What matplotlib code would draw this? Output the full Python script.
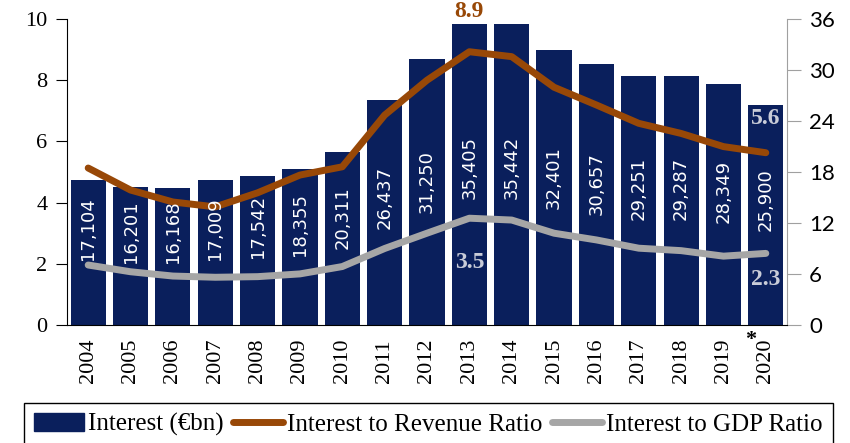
import numpy as np
import matplotlib
matplotlib.use("Agg")
import matplotlib.pyplot as plt
from matplotlib.patches import Patch
from matplotlib.lines import Line2D

# data
years = ['2004', '2005', '2006', '2007', '2008', '2009', '2010', '2011', '2012',
         '2013', '2014', '2015', '2016', '2017', '2018', '2019', '2020']
interest = [17104, 16201, 16168, 17009, 17542, 18355, 20311, 26437, 31250,
            35405, 35442, 32401, 30657, 29251, 29287, 28349, 25900]
revenue_ratio = [5.13, 4.41, 4.02, 3.86, 4.32, 4.9, 5.17, 6.86, 8.0,
                 8.93, 8.77, 7.77, 7.19, 6.59, 6.26, 5.83, 5.63]
gdp_ratio = [1.96, 1.74, 1.6, 1.56, 1.58, 1.67, 1.91, 2.5, 3.0,
             3.49, 3.43, 3.0, 2.78, 2.51, 2.43, 2.25, 2.34]

navy = '#0a1f5c'
brown = '#984807'
grey = '#a6a6a6'
label_col = '#c9ccd8'
serif = 'Liberation Serif'

x = np.arange(len(years))
bars_bn = np.array(interest) / 1000

fig = plt.figure(figsize=(8.5, 4.43), dpi=100)
ax = fig.add_axes([67 / 850, 118 / 443, 720 / 850, 306 / 443])
ax2 = ax.twinx()
ax.set_zorder(2)
ax.patch.set_visible(False)
ax2.set_zorder(1)

# bars on the right axis
ax2.bar(x, bars_bn, width=0.83, color=navy)
ax2.set_ylim(0, 36)
ax2.set_yticks(np.arange(0, 37, 6))
ax2.tick_params(axis='y', colors='#a0a0a0', labelcolor='black', length=10, pad=6,
                labelsize=16)
for lab in ax2.get_yticklabels():
    lab.set_fontfamily('Lato')
for s in ['top', 'left', 'bottom']:
    ax2.spines[s].set_visible(False)
ax2.spines['right'].set_color('#a0a0a0')

# bar value labels
for xi, h, v in zip(x, bars_bn, interest):
    ax.text(xi, 0.39 * h + 4.7, f'{v:,}', transform=ax2.transData, rotation=90,
            ha='center', va='center', color='white', fontsize=13,
            fontfamily='DejaVu Sans', zorder=5)

# ratio lines on the left axis
ax.plot(x, revenue_ratio, color=brown, lw=5, solid_capstyle='round', zorder=3)
ax.plot(x, gdp_ratio, color=grey, lw=5, solid_capstyle='round', zorder=3)
ax.set_ylim(0, 10)
ax.set_xlim(-0.5, len(years) - 0.5)
ax.set_yticks(np.arange(0, 11, 2))
ax.tick_params(axis='y', length=8, pad=6, labelsize=16)
for lab in ax.get_yticklabels():
    lab.set_fontfamily(serif)
ax.spines['top'].set_visible(False)
ax.spines['right'].set_visible(False)

# x axis: ticks between categories, labels at centres
ax.set_xticks(np.arange(-0.5, len(years), 1))
ax.set_xticklabels([])
ax.set_xticks(x, minor=True)
ax.set_xticklabels(years, minor=True, rotation=90, fontsize=16, fontfamily=serif)
ax.tick_params(axis='x', which='major', length=8)
ax.tick_params(axis='x', which='minor', length=0, pad=10)
ax2.set_xticks([])

# annotations
ax.text(9, 10.25, '8.9', ha='center', va='center', color=brown, fontsize=17,
        fontweight='bold', fontfamily=serif, clip_on=False)
ax.text(9, 2.03, '3.5', ha='center', va='center', color=label_col, fontsize=17,
        fontweight='bold', fontfamily=serif)
ax.text(16, 6.75, '5.6', ha='center', va='center', color=label_col, fontsize=17,
        fontweight='bold', fontfamily=serif)
ax.text(16, 1.49, '2.3', ha='center', va='center', color=label_col, fontsize=17,
        fontweight='bold', fontfamily=serif)
ax.annotate('*', xy=(15.63, -0.05), xycoords=('data', 'axes fraction'),
            ha='center', va='center', fontsize=16, fontweight='bold',
            fontfamily=serif, annotation_clip=False)

# legend
handles = [Patch(color=navy),
           Line2D([], [], color=brown, lw=5, solid_capstyle='round'),
           Line2D([], [], color=grey, lw=5, solid_capstyle='round')]
labels = ['Interest (€bn)', 'Interest to Revenue Ratio', 'Interest to GDP Ratio']
leg = fig.legend(handles, labels, loc='upper left', bbox_to_anchor=(24 / 850, 1 - 403 / 443),
                 ncol=3, frameon=True, fancybox=False, edgecolor='black', framealpha=1,
                 prop={'family': serif, 'size': 18}, handlelength=2.0,
                 handletextpad=0.18, columnspacing=0.35, borderpad=0.4,
                 borderaxespad=0)
leg.get_frame().set_linewidth(1)

fig.savefig('out.png', dpi=100)
